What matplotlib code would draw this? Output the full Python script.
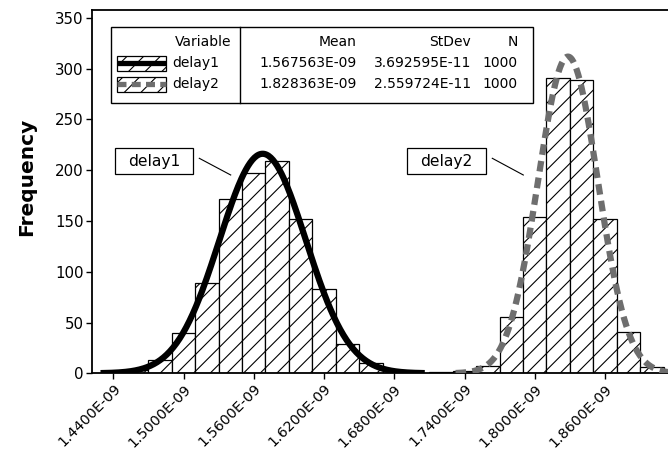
import numpy as np
import matplotlib
matplotlib.use("Agg")
import matplotlib.pyplot as plt
from matplotlib.patches import Rectangle
from matplotlib.lines import Line2D

plt.rcParams["font.family"] = ["DejaVu Sans"]
plt.rcParams["hatch.linewidth"] = 0.8

# histogram data (bin midpoints, counts)
bin_width = 2e-11
delay1_mid = [1.44e-9, 1.46e-9, 1.48e-9, 1.50e-9, 1.52e-9, 1.54e-9, 1.56e-9,
              1.58e-9, 1.60e-9, 1.62e-9, 1.64e-9, 1.66e-9, 1.68e-9]
delay1_cnt = [1, 3, 13, 40, 89, 172, 197, 209, 152, 83, 29, 10, 2]
delay2_mid = [1.72e-9, 1.74e-9, 1.76e-9, 1.78e-9, 1.80e-9, 1.82e-9, 1.84e-9,
              1.86e-9, 1.88e-9, 1.90e-9]
delay2_cnt = [1, 2, 7, 55, 154, 291, 289, 152, 41, 6]

# fitted normal stats shown in the table
names = ["delay1", "delay2"]
means = [1.567563e-09, 1.828363e-09]
stdevs = [3.692595e-11, 2.559724e-11]
ns = [1000, 1000]

xticks = [1.44e-9, 1.50e-9, 1.56e-9, 1.62e-9, 1.68e-9, 1.74e-9, 1.80e-9, 1.86e-9]
yticks = [0, 50, 100, 150, 200, 250, 300, 350]

W, H = 668, 453
fig = plt.figure(figsize=(W / 100, H / 100), dpi=100)


def px(x, y):
    return x / W, 1 - y / H


ax = fig.add_axes([92 / W, (H - 373.3) / H, 580 / W, 363.3 / H])

for mid, cnt in [(delay1_mid, delay1_cnt), (delay2_mid, delay2_cnt)]:
    ax.bar(mid, cnt, width=bin_width, color="white", edgecolor="black",
           linewidth=0.9, hatch="//", zorder=2)

styles = [dict(color="black", lw=4.5, ls="-"),
          dict(color="#6e6e6e", lw=4.5, ls=(0, (1.7, 1.0)))]
for m, s, n, st in zip(means, stdevs, ns, styles):
    xs = np.linspace(m - 3.75 * s, m + 3.75 * s, 300)
    ys = n * bin_width / (s * np.sqrt(2 * np.pi)) * np.exp(-0.5 * ((xs - m) / s) ** 2)
    ax.plot(xs, ys, solid_capstyle="butt", dash_capstyle="butt", zorder=3, **st)

ax.set_xlim(1.4218e-9, 1.4218e-9 + 580 / 1170.7 * 1e-9)
ax.set_ylim(0, 357.6)
ax.set_xticks(xticks)
ax.set_xticklabels([f"{v:.4E}" for v in xticks], rotation=45, ha="right",
                   rotation_mode="anchor", fontsize=10.3)
ax.set_yticks(yticks)
ax.set_yticklabels([str(v) for v in yticks], fontsize=10.8)
ax.tick_params(direction="out", length=4, width=1, pad=2)
for sp in ["left", "bottom", "top"]:
    ax.spines[sp].set_linewidth(1.3)
ax.spines["right"].set_visible(False)
ax.set_ylabel("Frequency", fontsize=14.5, fontweight="bold")
ax.yaxis.set_label_coords(-0.097, 0.54)

# legend table
fig.patches.append(Rectangle(px(111, 103.3), 422 / W, 76.6 / H, transform=fig.transFigure,
                             fill=False, edgecolor="black", lw=1.0))
fig.lines.append(Line2D([240 / W, 240 / W], [1 - 26.7 / H, 1 - 103.3 / H],
                        transform=fig.transFigure, color="black", lw=1.0))
fs = 10
fig.text(*px(231.7, 41.7), "Variable", ha="right", va="center", fontsize=fs)
fig.text(*px(357, 41.7), "Mean", ha="right", va="center", fontsize=fs)
fig.text(*px(471, 41.7), "StDev", ha="right", va="center", fontsize=fs)
fig.text(*px(518, 41.7), "N", ha="right", va="center", fontsize=fs)
rows_y = [63.3, 84.0]
for name, m, s, n, st, y in zip(names, means, stdevs, ns, styles, rows_y):
    fig.patches.append(Rectangle(px(116.7, y + 7.5), 49.3 / W, 15 / H,
                                 transform=fig.transFigure, facecolor="white",
                                 edgecolor="black", lw=0.9, hatch="//"))
    fig.lines.append(Line2D([117 / W, 166 / W], [1 - y / H, 1 - y / H],
                            transform=fig.transFigure, color=st["color"], lw=3.8,
                            ls=st["ls"], solid_capstyle="butt", dash_capstyle="butt"))
    fig.text(*px(172.7, y), name, ha="left", va="center", fontsize=fs)
    fig.text(*px(357, y), f"{m:.6E}", ha="right", va="center", fontsize=fs)
    fig.text(*px(471, y), f"{s:.6E}", ha="right", va="center", fontsize=fs)
    fig.text(*px(518, y), str(n), ha="right", va="center", fontsize=fs)

# callout labels
for name, x0, x1, lx0, lx1 in [("delay1", 115, 193.3, 199.3, 230.7),
                               ("delay2", 407.3, 486, 492.3, 523.3)]:
    fig.patches.append(Rectangle(px(x0, 174.3), (x1 - x0) / W, 26 / H,
                                 transform=fig.transFigure, facecolor="white",
                                 edgecolor="black", lw=0.9, zorder=5))
    fig.text(*px((x0 + x1) / 2, 161.3), name, ha="center", va="center",
             fontsize=11.2, zorder=6)
    fig.lines.append(Line2D([lx0 / W, lx1 / W], [1 - 158.3 / H, 1 - 175 / H],
                            transform=fig.transFigure, color="black", lw=0.8))

fig.savefig("out.png", dpi=100)
